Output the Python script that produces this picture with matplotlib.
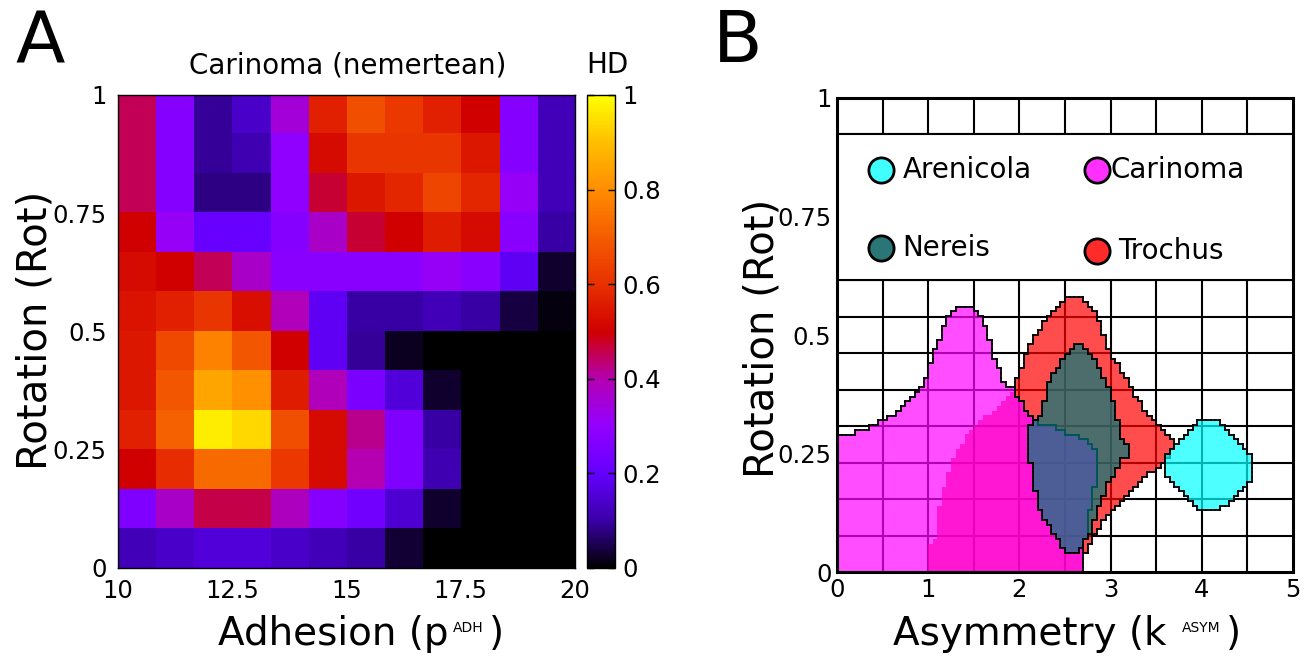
import numpy as np
import matplotlib
matplotlib.use('Agg')
import matplotlib.pyplot as plt
from matplotlib.path import Path
from matplotlib.patches import Rectangle
from matplotlib.collections import LineCollection
from matplotlib.colors import to_rgb, LinearSegmentedColormap

# ---------------- panel A data: Hamming distance, Carinoma ----------------
adhesion_ticks = [10, 12.5, 15, 17.5, 20]
rotation_ticks = [0, 0.25, 0.5, 0.75, 1]
rotation_labels = ['0', '0.25', '0.5', '0.75', '1']
hd_ticks = [0, 0.2, 0.4, 0.6, 0.8, 1]
hd_labels = ['0', '0.2', '0.4', '0.6', '0.8', '1']
# rows go from Rot = 1 (top) down to Rot = 0, columns from p_ADH = 10 to 20
hd_carinoma = np.array([
    [0.45, 0.27, 0.09, 0.14, 0.35, 0.57, 0.67, 0.62, 0.57, 0.50, 0.27, 0.12],
    [0.45, 0.27, 0.09, 0.11, 0.29, 0.52, 0.61, 0.61, 0.61, 0.55, 0.27, 0.12],
    [0.45, 0.27, 0.08, 0.08, 0.29, 0.47, 0.55, 0.58, 0.65, 0.58, 0.31, 0.12],
    [0.50, 0.31, 0.21, 0.21, 0.27, 0.37, 0.47, 0.50, 0.56, 0.52, 0.28, 0.10],
    [0.52, 0.50, 0.45, 0.37, 0.28, 0.28, 0.28, 0.28, 0.31, 0.28, 0.19, 0.03],
    [0.54, 0.57, 0.61, 0.53, 0.39, 0.19, 0.10, 0.10, 0.12, 0.10, 0.04, 0.01],
    [0.55, 0.66, 0.78, 0.69, 0.50, 0.19, 0.09, 0.02, 0.00, 0.00, 0.00, 0.00],
    [0.55, 0.69, 0.85, 0.81, 0.56, 0.39, 0.25, 0.16, 0.03, 0.00, 0.00, 0.00],
    [0.57, 0.71, 0.97, 0.94, 0.67, 0.52, 0.42, 0.26, 0.10, 0.00, 0.00, 0.00],
    [0.50, 0.59, 0.73, 0.73, 0.62, 0.52, 0.40, 0.26, 0.11, 0.00, 0.00, 0.00],
    [0.26, 0.37, 0.46, 0.46, 0.38, 0.27, 0.23, 0.15, 0.03, 0.00, 0.00, 0.00],
    [0.12, 0.14, 0.16, 0.16, 0.14, 0.12, 0.10, 0.035, 0.00, 0.00, 0.00, 0.00],
])

# ---------------- panel B data: low-HD regions per species ----------------
asym_ticks = [0, 1, 2, 3, 4, 5]
# outlines in (k_ASYM, Rot)
carinoma_right = [(1.93, 0.385), (2.15, 0.32), (2.45, 0.30), (2.70, 0.28),
                  (2.85, 0.26), (2.85, 0.20), (2.77, 0.12), (2.72, 0.06),
                  (2.72, 0.0)]
carinoma_top = [(0.0, 0.0), (0.0, 0.286), (0.216, 0.286), (0.216, 0.296),
                (0.435, 0.314), (0.58, 0.327), (0.80, 0.363), (0.95, 0.39),
                (1.0, 0.42), (1.02, 0.44), (1.13, 0.496), (1.24, 0.546),
                (1.35, 0.563), (1.46, 0.563), (1.60, 0.539), (1.71, 0.461),
                (1.82, 0.405)]
carinoma_core = [(1.0, 0.0), (1.0, 0.05), (1.08, 0.075), (1.09, 0.11),
                 (1.16, 0.17), (1.23, 0.215), (1.30, 0.257), (1.42, 0.285),
                 (1.55, 0.314), (1.82, 0.356)]
trochus = [(1.93, 0.385), (2.01, 0.426), (2.15, 0.49), (2.34, 0.545),
           (2.56, 0.584), (2.68, 0.584), (2.85, 0.545), (3.0, 0.46),
           (3.18, 0.405), (3.40, 0.335), (3.61, 0.292), (3.70, 0.27),
           (3.61, 0.236), (3.40, 0.201), (3.14, 0.152), (2.88, 0.096),
           (2.70, 0.035)]
nereis = [(2.59, 0.479), (2.68, 0.479), (2.85, 0.44), (2.99, 0.384),
          (3.10, 0.307), (3.12, 0.28), (3.18, 0.27), (3.18, 0.245),
          (3.12, 0.235), (3.05, 0.21), (2.99, 0.194), (2.88, 0.138),
          (2.77, 0.081), (2.68, 0.055), (2.62, 0.043), (2.52, 0.043),
          (2.37, 0.081), (2.23, 0.131), (2.15, 0.194), (2.10, 0.27),
          (2.12, 0.31), (2.23, 0.335), (2.34, 0.405), (2.45, 0.44)]
arenicola = [(3.94, 0.317), (4.20, 0.317), (4.40, 0.28), (4.57, 0.245),
             (4.57, 0.205), (4.40, 0.165), (4.20, 0.131), (3.98, 0.131),
             (3.78, 0.165), (3.60, 0.20), (3.60, 0.24), (3.78, 0.28)]

species = ['Arenicola', 'Carinoma', 'Nereis', 'Trochus']
fill_colors = {'Arenicola': '#00ffff', 'Carinoma': '#ff00ff',
               'Nereis': '#007c7c', 'Trochus': '#ff0000'}
core_color = '#ff00c0'
marker_colors = {'Arenicola': '#40ffff', 'Carinoma': '#ff30ff',
                 'Nereis': '#2a7575', 'Trochus': '#ff2a2a'}

# bright black-violet-red-yellow palette
hd_cmap = LinearSegmentedColormap.from_list('hd', [
    (0.0, '#000000'), (0.1, '#3a00a8'), (0.2, '#6400ff'), (0.3, '#9400ff'),
    (0.4, '#b400b0'), (0.5, '#d00000'), (0.6, '#e83000'), (0.7, '#f45c00'),
    (0.8, '#ff8c00'), (0.9, '#ffbe00'), (1.0, '#ffff00')])

fig = plt.figure(figsize=(13.08, 6.59), dpi=100)

# ================= panel A =================
axA = fig.add_axes([0.0902, 0.1381, 0.3494, 0.7178])
im = axA.imshow(hd_carinoma, cmap=hd_cmap, vmin=0, vmax=1,
                extent=(10, 20, 0, 1), aspect='auto', interpolation='nearest')
axA.set_xticks(adhesion_ticks)
axA.set_xticklabels(['10', '12.5', '15', '17.5', '20'])
axA.set_yticks(rotation_ticks)
axA.set_yticklabels(rotation_labels)
axA.tick_params(length=0, labelsize=17.5, pad=8)
for s in axA.spines.values():
    s.set_linewidth(1.0)

cax = fig.add_axes([0.4488, 0.1381, 0.0214, 0.7178])
cb = fig.colorbar(im, cax=cax, ticks=hd_ticks)
cb.ax.set_yticklabels(hd_labels)
cb.outline.set_linewidth(1.0)
cax.tick_params(direction='in', left=True, right=True, length=5, width=1,
                labelsize=17.5, pad=5)

fig.text(0.266, 0.901, 'Carinoma (nemertean)', fontsize=20,
         ha='center', va='center')
fig.text(0.464, 0.901, 'HD', fontsize=20, ha='center', va='center')
fig.text(0.0306, 0.935, 'A', fontsize=52, ha='center', va='center')
fig.text(0.0268, 0.499, 'Rotation (Rot)', fontsize=29, rotation=90,
         ha='center', va='center')

# x title: main text, a small raised tag, then the closing bracket
t1 = fig.text(0.1667, 0.0212, 'Adhesion (p', fontsize=28,
              ha='left', va='baseline')
t2 = axA.annotate('ADH', xy=(1, 1), xycoords=t1, xytext=(3, -4),
                  textcoords='offset points', fontsize=10,
                  ha='left', va='top', annotation_clip=False)
axA.annotate(')', xy=(1, 0), xycoords=(t2, t1), xytext=(4, 0),
             textcoords='offset points', fontsize=28,
             ha='left', va='bottom', annotation_clip=False)

# ================= panel B =================
axB = fig.add_axes([0.6399, 0.132, 0.3486, 0.7193])

# background grid
for gx in np.arange(0.5, 5, 0.5):
    axB.axvline(gx, color='black', lw=1.5, zorder=1)
for gy in np.arange(1, 13) / 13:
    axB.axhline(gy, color='black', lw=1.5, zorder=1)

cell_x = np.linspace(0, 5, 101)
cell_y = np.linspace(0, 1, 101)
cgx, cgy = np.meshgrid((cell_x[:-1] + cell_x[1:]) / 2,
                       (cell_y[:-1] + cell_y[1:]) / 2)
centres = np.column_stack([cgx.ravel(), cgy.ravel()])


def raster(outline):
    return Path(outline).contains_points(centres).reshape(cgx.shape)


def outline_segments(mask):
    m = np.pad(mask, 1)
    segs = []
    rows, cols = np.nonzero(m[1:-1, 1:] != m[1:-1, :-1])
    for r, c in zip(rows, cols):
        segs.append([(cell_x[c], cell_y[r]), (cell_x[c], cell_y[r + 1])])
    rows, cols = np.nonzero(m[1:, 1:-1] != m[:-1, 1:-1])
    for r, c in zip(rows, cols):
        segs.append([(cell_x[c], cell_y[r]), (cell_x[c + 1], cell_y[r])])
    return segs


def draw_region(mask, color, z, edge=True):
    rgba = np.zeros(mask.shape + (4,))
    rgba[mask] = (*to_rgb(color), 0.7)
    axB.imshow(rgba, origin='lower', extent=(0, 5, 0, 1), aspect='auto',
               interpolation='nearest', zorder=z)
    if edge:
        axB.add_collection(LineCollection(outline_segments(mask),
                                          colors='black', linewidths=1.3,
                                          capstyle='projecting',
                                          zorder=z + 0.5))


car_outer = raster(carinoma_top + carinoma_right)
car_inner = raster(carinoma_core + carinoma_right)
tro = raster(trochus) & ~car_outer
ner = raster(nereis)
are = raster(arenicola)

draw_region(car_outer, fill_colors['Carinoma'], 2)
draw_region(car_inner, core_color, 2.2, edge=False)
draw_region(tro, fill_colors['Trochus'], 3)
draw_region(ner, fill_colors['Nereis'], 4)
draw_region(are, fill_colors['Arenicola'], 5)
axB.set_xlim(0, 5)
axB.set_ylim(0, 1)

# legend panel across the upper band of the grid
axB.add_patch(Rectangle((0, 8 / 13), 5, 4 / 13, facecolor='white',
                        edgecolor='black', lw=1.5, zorder=6))
legend_pos = {'Arenicola': (0.48, 0.848, 0.72), 'Carinoma': (2.85, 0.848, 3.0),
              'Nereis': (0.48, 0.683, 0.72), 'Trochus': (2.85, 0.678, 3.08)}
for name in species:
    mx, my, tx = legend_pos[name]
    axB.scatter([mx], [my], s=330, color=marker_colors[name],
                edgecolors='black', linewidths=2, zorder=7)
    axB.text(tx, my, name, fontsize=20, ha='left', va='center', zorder=7)

axB.set_xticks(asym_ticks)
axB.set_xticklabels([str(t) for t in asym_ticks])
axB.set_yticks(rotation_ticks)
axB.set_yticklabels(rotation_labels)
axB.tick_params(length=0, labelsize=17.5, pad=4)
for s in axB.spines.values():
    s.set_linewidth(2.2)
    s.set_zorder(10)

fig.text(0.564, 0.935, 'B', fontsize=52, ha='center', va='center')
fig.text(0.5826, 0.486, 'Rotation (Rot)', fontsize=29, rotation=90,
         ha='center', va='center')
t3 = fig.text(0.6827, 0.0212, 'Asymmetry (k ', fontsize=28,
              ha='left', va='baseline')
t4 = axB.annotate('ASYM', xy=(1, 1), xycoords=t3, xytext=(2, -4),
                  textcoords='offset points', fontsize=10,
                  ha='left', va='top', annotation_clip=False)
axB.annotate(')', xy=(1, 0), xycoords=(t4, t3), xytext=(4, 0),
             textcoords='offset points', fontsize=28,
             ha='left', va='bottom', annotation_clip=False)

fig.savefig('out.png', dpi=100)
